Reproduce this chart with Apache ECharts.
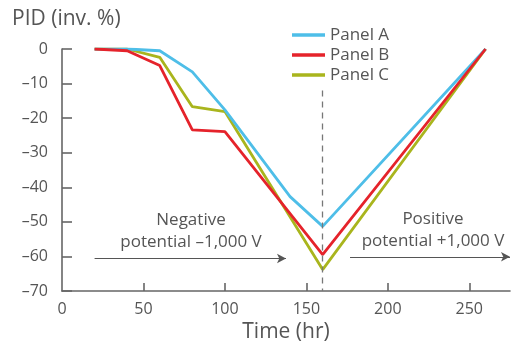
<!DOCTYPE html>
<html>
<head>
<meta charset="utf-8">
<script src="https://cdn.jsdelivr.net/npm/echarts@6/dist/echarts.min.js"></script>
<style>
html,body{margin:0;padding:0;background:#fff;}
#c{width:511px;height:345px;}
</style>
</head>
<body>
<div id="c"></div>
<script>
// ---- data ----
const seriesNames = ['Panel A', 'Panel B', 'Panel C'];
const timeA = [20, 40, 60, 80, 100, 140, 160, 260];
const panelA = [0, 0, -0.5, -6.6, -17.6, -42.7, -51.3, 0];
const timeBC = [20, 40, 60, 80, 100, 160, 260];
const panelB = [0, -0.5, -4.8, -23.4, -23.9, -59.5, 0];
const panelC = [0, 0, -2.4, -16.7, -18.1, -63.8, 0];
const xTickLabels = [0, 50, 100, 150, 200, 250];
const xTickMarks = [50, 100, 150, 200, 250];
const yTicks = [0, -10, -20, -30, -40, -50, -60, -70];
const switchTime = 160;
const negArrow = [[20, -60.6], [137.5, -60.6]];
const posArrow = [[176.8, -60.1], [275, -60.1]];
const dashSpan = [-12, -70];
const negText = ['Negative', 'potential \u20131,000 V'];
const posText = ['Positive', 'potential +1,000 V'];

const FONT = '"Open Sans", sans-serif';
const GRAY = '#555';
const colors = ['#4ebee8', '#e5232b', '#a9b51d'];

function pairs(xs, ys) { return xs.map((x, i) => [x, ys[i]]); }
const fmt = v => (v < 0 ? '\u2013' + Math.abs(v) : String(v));

const chart = echarts.init(document.getElementById('c'), null, {renderer: 'canvas'});
chart.setOption({
  animation: false,
  color: colors,
  textStyle: {fontFamily: FONT},
  grid: {left: 62, right: 1, top: 49, bottom: 54, containLabel: false, outerBoundsMode: 'none'},
  legend: {
    data: seriesNames, orient: 'vertical', left: 287, top: 20,
    icon: 'rect', itemWidth: 33, itemHeight: 3.5, itemGap: 0,
    textStyle: {fontFamily: FONT, fontSize: 17, color: GRAY, lineHeight: 20},
    selectedMode: false
  },
  xAxis: {
    type: 'value', min: 0, max: 275, interval: 50,
    name: 'Time (hr)', nameLocation: 'middle', nameGap: 28,
    nameTextStyle: {fontFamily: FONT, fontSize: 21, color: GRAY},
    axisLine: {show: true, onZero: false, lineStyle: {color: '#666', width: 1.6}},
    axisTick: {show: true, inside: true, length: 8, customValues: xTickMarks, lineStyle: {color: '#666', width: 1.6}},
    axisLabel: {customValues: xTickLabels, fontFamily: FONT, fontSize: 16, color: GRAY, margin: 10},
    splitLine: {show: false}
  },
  yAxis: {
    type: 'value', min: -70, max: 0, interval: 10,
    axisLine: {show: true, onZero: false, lineStyle: {color: '#666', width: 1.6}},
    axisTick: {show: true, inside: true, length: 10, customValues: yTicks, lineStyle: {color: '#666', width: 1.6}},
    axisLabel: {customValues: yTicks, formatter: fmt, fontFamily: FONT, fontSize: 16, color: GRAY, margin: 14},
    splitLine: {show: false}
  },
  graphic: [
    {type: 'text', left: 12, top: 9, style: {text: 'PID (inv. %)', font: '21px ' + FONT, fill: GRAY}},
    {type: 'text', x: 191, y: 220, style: {text: negText[0], font: '17px ' + FONT, fill: GRAY, align: 'center', verticalAlign: 'middle'}},
    {type: 'text', x: 191, y: 242, style: {text: negText[1], font: '17px ' + FONT, fill: GRAY, align: 'center', verticalAlign: 'middle'}},
    {type: 'text', x: 433, y: 219, style: {text: posText[0], font: '17px ' + FONT, fill: GRAY, align: 'center', verticalAlign: 'middle'}},
    {type: 'text', x: 433, y: 241, style: {text: posText[1], font: '17px ' + FONT, fill: GRAY, align: 'center', verticalAlign: 'middle'}}
  ],
  series: [
    {
      name: seriesNames[0], type: 'line', data: pairs(timeA, panelA), showSymbol: false, symbol: 'none',
      lineStyle: {width: 2.8, color: colors[0]}, z: 3,
      markLine: {
        silent: true, symbol: ['none', 'none'], label: {show: false},
        lineStyle: {color: '#777', width: 1.3, type: [6, 5]},
        data: [[{coord: [switchTime, dashSpan[0]]}, {coord: [switchTime, dashSpan[1]]}]]
      }
    },
    {
      name: seriesNames[1], type: 'line', data: pairs(timeBC, panelB), showSymbol: false, symbol: 'none',
      lineStyle: {width: 2.8, color: colors[1]}, z: 4,
      markLine: {
        silent: true, symbol: ['none', 'arrow'], symbolSize: [7, 9], label: {show: false},
        lineStyle: {color: GRAY, width: 1.2, type: 'solid'},
        data: [
          [{coord: negArrow[0]}, {coord: negArrow[1]}],
          [{coord: posArrow[0]}, {coord: posArrow[1]}]
        ]
      }
    },
    {
      name: seriesNames[2], type: 'line', data: pairs(timeBC, panelC), showSymbol: false, symbol: 'none',
      lineStyle: {width: 2.8, color: colors[2]}, z: 2
    }
  ]
});
</script>
</body>
</html>
